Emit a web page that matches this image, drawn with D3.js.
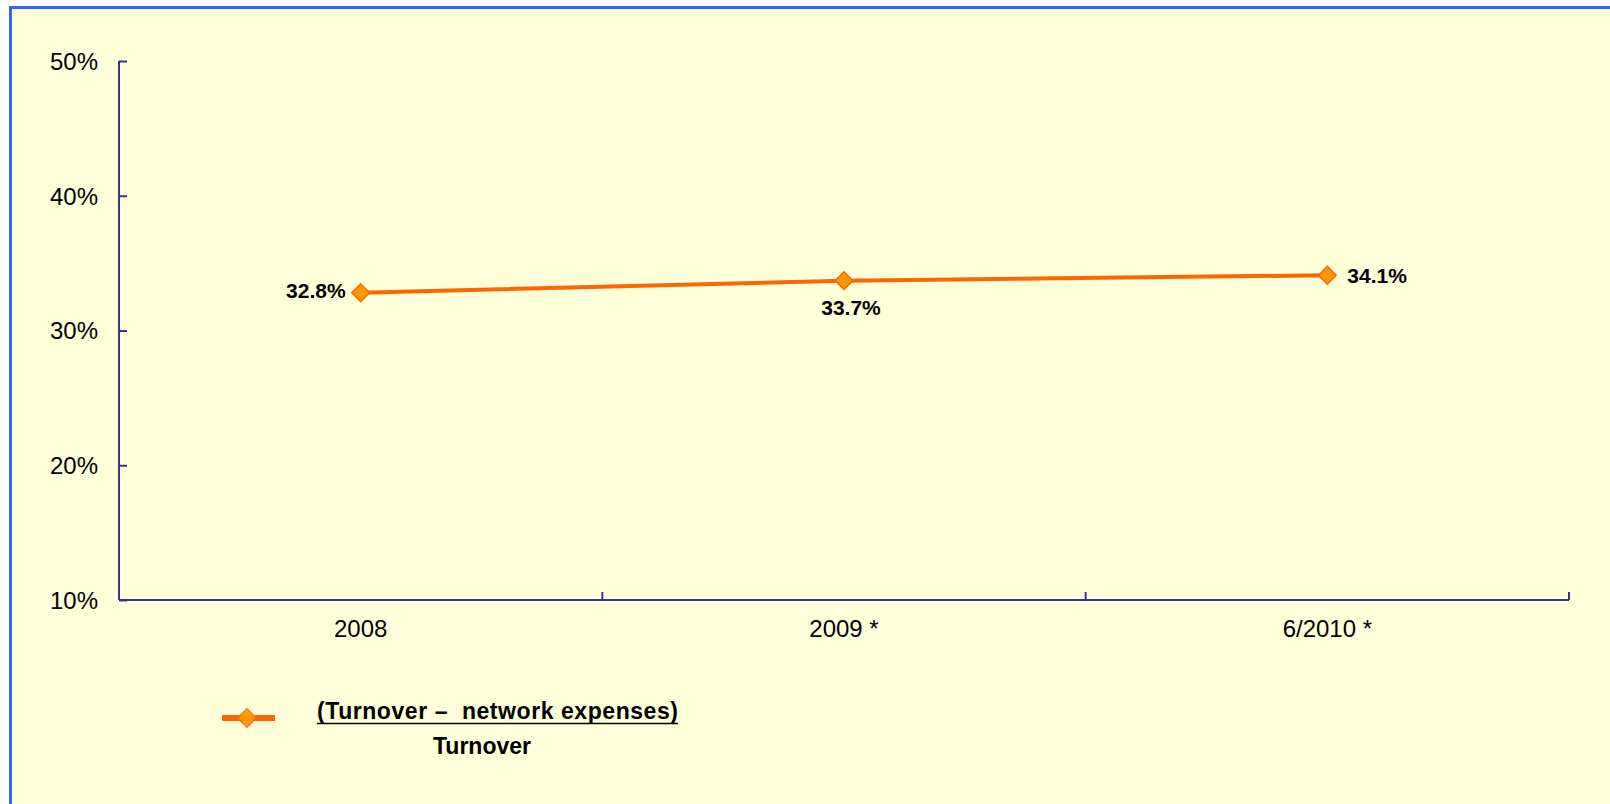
<!DOCTYPE html>
<html><head><meta charset="utf-8">
<script src="https://cdn.jsdelivr.net/npm/d3@7/dist/d3.min.js"></script>
<style>
html,body{margin:0;padding:0;background:#ffffff;}
svg{display:block;}
text{font-family:"Liberation Sans",Arial,sans-serif;}
</style></head>
<body>
<svg id="chart" width="1610" height="804"></svg>
<script>
const categories = ["2008", "2009 *", "6/2010 *"];
const values = [32.8, 33.7, 34.1];
const valueLabels = ["32.8%", "33.7%", "34.1%"];
const yTicks = [10, 20, 30, 40, 50];
const legendLine1 = "(Turnover \u2013  network expenses)";
const legendLine2 = "Turnover";

const svg = d3.select("#chart");
const axisColor = "#333399";
const lineColor = "#FF6600";
const markerFill = "#FF9900";

// background panel with blue frame (extends beyond viewport on right/bottom)
svg.append("rect").attr("x", 10.5).attr("y", 7.5).attr("width", 1640).attr("height", 840)
  .attr("fill", "#FFFFD9").attr("stroke", "#3366FF").attr("stroke-width", 3);

const x0 = 119, x1 = 1569, yTop = 61, yBot = 600;
const x = d3.scaleBand().domain(categories).range([x0, x1]).paddingInner(0).paddingOuter(0);
const y = d3.scaleLinear().domain([10, 50]).range([yBot, yTop]);

// Y axis
const yAxis = d3.axisLeft(y).tickValues(yTicks).tickSize(-8).tickPadding(30).tickFormat(d => d + "%");
const gy = svg.append("g").attr("transform", `translate(${x0},0)`).call(yAxis);
gy.select(".domain").attr("stroke", axisColor).attr("stroke-width", 2).attr("d", `M0,${yTop}V${yBot}`);
gy.selectAll(".tick line").attr("stroke", axisColor).attr("stroke-width", 2);
gy.selectAll(".tick text").attr("fill", "#000").attr("font-size", 24)
  .attr("font-family", "Liberation Sans, Arial, sans-serif").attr("dy", "0.35em").attr("x", -21);

// X axis
const xAxis = d3.axisBottom(x).tickSize(0).tickPadding(0);
const gx = svg.append("g").attr("transform", `translate(0,${yBot})`).call(xAxis);
gx.select(".domain").attr("stroke", axisColor).attr("stroke-width", 2).attr("d", `M${x0},0H${x1}`);
gx.selectAll(".tick text").attr("fill", "#000").attr("font-size", 24)
  .attr("font-family", "Liberation Sans, Arial, sans-serif").attr("y", 37).attr("dy", 0);
// band-boundary ticks pointing inward
const boundaries = categories.map(c => x(c) + x.bandwidth());
gx.selectAll(".bt").data(boundaries).enter().append("line")
  .attr("x1", d => d).attr("x2", d => d).attr("y1", 0).attr("y2", -8)
  .attr("stroke", axisColor).attr("stroke-width", 2);

// line
const cx = (c) => x(c) + x.bandwidth() / 2;
const pts = categories.map((c, i) => [cx(c), y(values[i])]);
svg.append("path").attr("d", d3.line()(pts)).attr("fill", "none")
  .attr("stroke", lineColor).attr("stroke-width", 4);

const diamond = d3.symbol().type(d3.symbolDiamond2).size(200);
svg.selectAll(".mk").data(pts).enter().append("path")
  .attr("transform", d => `translate(${d[0]},${d[1]})`)
  .attr("d", diamond).attr("fill", markerFill).attr("stroke", lineColor).attr("stroke-width", 1.5);

// value labels
const labelPos = [
  {dx: -15, dy: 5, anchor: "end"},
  {dx: 7, dy: 34, anchor: "middle"},
  {dx: 20, dy: 8, anchor: "start"}
];
svg.selectAll(".vl").data(pts).enter().append("text")
  .attr("x", (d, i) => d[0] + labelPos[i].dx)
  .attr("y", (d, i) => d[1] + labelPos[i].dy)
  .attr("text-anchor", (d, i) => labelPos[i].anchor)
  .attr("font-size", 21).attr("font-weight", "bold").attr("fill", "#000")
  .text((d, i) => valueLabels[i]);

// legend
const lg = svg.append("g");
lg.append("line").attr("x1", 222).attr("x2", 275).attr("y1", 718).attr("y2", 718)
  .attr("stroke", lineColor).attr("stroke-width", 6);
lg.append("path").attr("transform", "translate(247,718)")
  .attr("d", d3.symbol().type(d3.symbolDiamond2).size(220))
  .attr("fill", markerFill).attr("stroke", lineColor).attr("stroke-width", 1.5).attr("opacity", 0.9);
lg.append("line").attr("x1", 317).attr("x2", 678).attr("y1", 723.5).attr("y2", 723.5)
  .attr("stroke", "#000").attr("stroke-width", 1.5);
lg.append("text").attr("x", 317).attr("y", 719).attr("font-size", 23).attr("font-weight", "bold")
  .style("white-space", "pre").attr("textLength", 361).attr("lengthAdjust", "spacing").text(legendLine1);
lg.append("text").attr("x", 482).attr("y", 754).attr("text-anchor", "middle").attr("font-size", 23)
  .attr("font-weight", "bold").text(legendLine2);
</script>
</body></html>
